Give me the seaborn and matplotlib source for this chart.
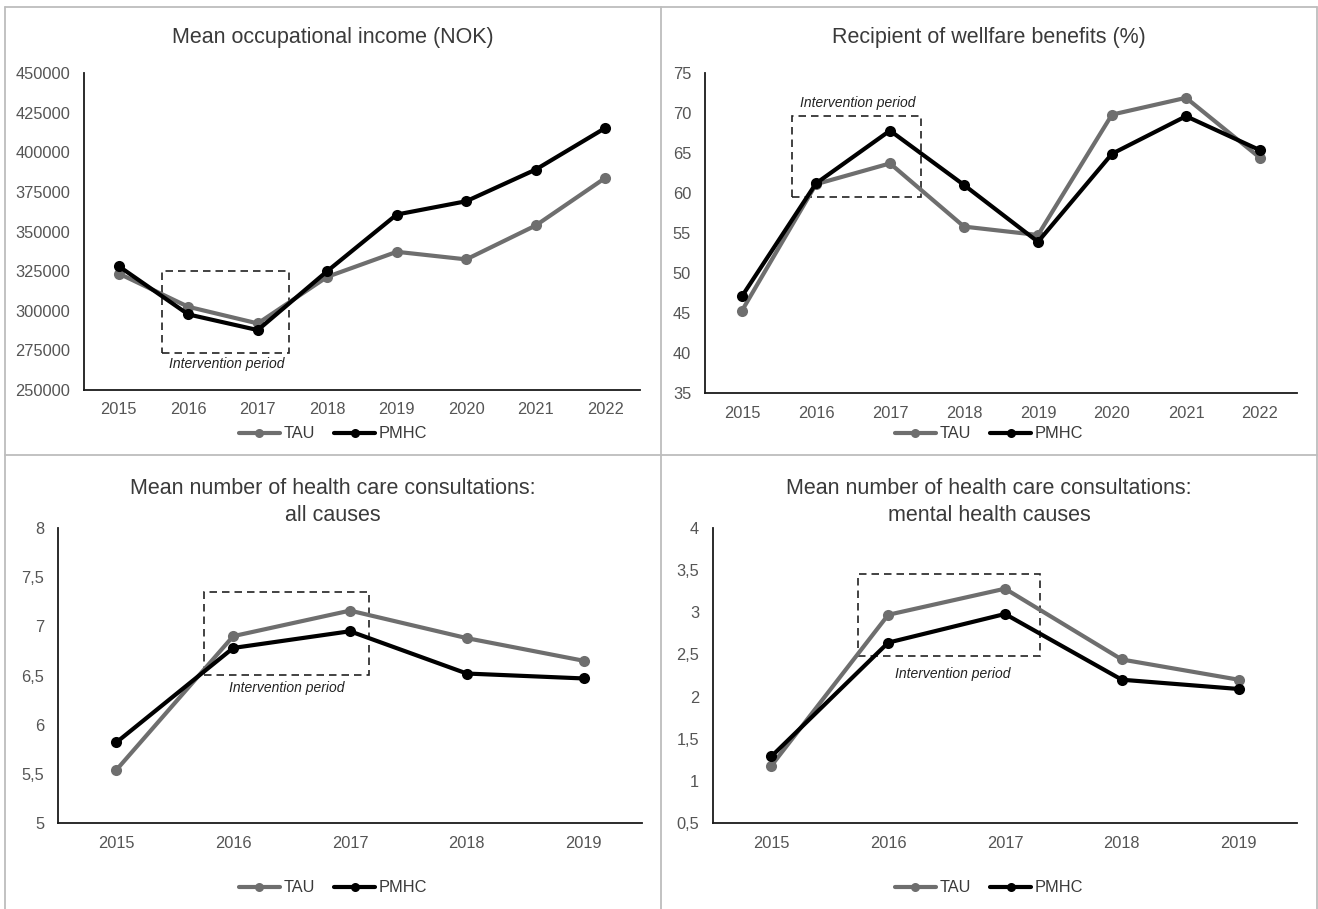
import matplotlib
matplotlib.use("Agg")
import matplotlib.pyplot as plt
from matplotlib.lines import Line2D
from matplotlib.patches import Rectangle
from matplotlib.ticker import FuncFormatter, MultipleLocator
import numpy as np
import pandas as pd
import seaborn as sns

# ---- data -------------------------------------------------------------
years_long = [2015, 2016, 2017, 2018, 2019, 2020, 2021, 2022]
years_short = [2015, 2016, 2017, 2018, 2019]

income_tau = [323500, 302500, 292000, 321400, 337200, 332400, 353800, 383800]
income_pmhc = [328100, 297700, 287800, 325000, 360700, 369100, 389100, 415300]

welfare_tau = [45.3, 61.1, 63.7, 55.8, 54.75, 69.8, 71.9, 64.4]
welfare_pmhc = [47.1, 61.2, 67.8, 61.0, 53.9, 64.9, 69.6, 65.35]

consult_all_tau = [5.54, 6.90, 7.16, 6.88, 6.65]
consult_all_pmhc = [5.82, 6.78, 6.95, 6.52, 6.47]

consult_mental_tau = [1.18, 2.97, 3.28, 2.44, 2.20]
consult_mental_pmhc = [1.29, 2.64, 2.98, 2.20, 2.09]

group_names = ["TAU", "PMHC"]
titles = [
    "Mean occupational income (NOK)",
    "Recipient of wellfare benefits (%)",
    "Mean number of health care consultations:\nall causes",
    "Mean number of health care consultations:\nmental health causes",
]

# ---- styling ----------------------------------------------------------
sns.set_style("white")
plt.rcParams["font.family"] = ["Liberation Sans", "DejaVu Sans"]

W, H = 1318, 909
GREY = "#6e6e6e"
TICK_C = "#555555"
TITLE_C = "#3a3a3a"
palette = {"TAU": GREY, "PMHC": "#000000"}

fig = plt.figure(figsize=(W / 100, H / 100), dpi=100)


def px_axes(x0, x1, ytop, ybot):
    return fig.add_axes([x0 / W, 1 - ybot / H, (x1 - x0) / W, (ybot - ytop) / H])


def comma_fmt(v, _):
    return f"{v:g}".replace(".", ",")


panels = [
    dict(rect=(84, 640, 73, 390), years=years_long, tau=income_tau, pmhc=income_pmhc,
         ylim=(250000, 450000), step=25000,
         box=(0.62, 273500, 2.45, 325000), note=(1.56, 266500),
         title_y=37, legend_y=434, cx=333),
    dict(rect=(705, 1297, 73, 393), years=years_long, tau=welfare_tau, pmhc=welfare_pmhc,
         ylim=(35, 75), step=5,
         box=(0.68, 59.45, 2.42, 69.6), note=(1.57, 71.2),
         title_y=37, legend_y=434, cx=989),
    dict(rect=(58, 642, 528, 823), years=years_short, tau=consult_all_tau, pmhc=consult_all_pmhc,
         ylim=(5, 8), step=0.5,
         box=(0.75, 6.51, 2.16, 7.35), note=(1.46, 6.37),
         title_y=502, legend_y=888, cx=333),
    dict(rect=(713, 1297, 528, 823), years=years_short, tau=consult_mental_tau, pmhc=consult_mental_pmhc,
         ylim=(0.5, 4), step=0.5,
         box=(0.74, 2.48, 2.30, 3.46), note=(1.55, 2.27),
         title_y=502, legend_y=888, cx=989),
]

for p, title in zip(panels, titles):
    ax = px_axes(*p["rect"])
    n = len(p["years"])
    df = pd.DataFrame({
        "pos": list(range(n)) * 2,
        "value": list(p["tau"]) + list(p["pmhc"]),
        "group": ["TAU"] * n + ["PMHC"] * n,
    })
    sns.lineplot(data=df, x="pos", y="value", hue="group", hue_order=group_names,
                 palette=palette, marker="o", markersize=8, markeredgewidth=0,
                 linewidth=3.0, legend=False, ax=ax, zorder=3)

    ax.set_xlim(-0.5, n - 0.5)
    ax.set_ylim(*p["ylim"])
    ax.set_xticks(range(n))
    ax.set_xticklabels([str(y) for y in p["years"]])
    ax.yaxis.set_major_locator(MultipleLocator(p["step"]))
    ax.yaxis.set_major_formatter(FuncFormatter(comma_fmt))
    ax.set_xlabel("")
    ax.set_ylabel("")
    ax.tick_params(axis="both", length=0, labelsize=11.8, labelcolor=TICK_C)
    ax.tick_params(axis="y", pad=10)
    ax.tick_params(axis="x", pad=9)
    for side in ("top", "right"):
        ax.spines[side].set_visible(False)
    for side in ("left", "bottom"):
        ax.spines[side].set_color("#1a1a1a")
        ax.spines[side].set_linewidth(1.3)
    ax.patch.set_alpha(0)

    # intervention window
    bx0, by0, bx1, by1 = p["box"]
    ax.add_patch(Rectangle((bx0, by0), bx1 - bx0, by1 - by0, fill=False,
                           edgecolor="#222222", linewidth=1.2,
                           linestyle=(0, (4.5, 3)), zorder=2))
    ax.text(p["note"][0], p["note"][1], "Intervention period", style="italic",
            fontsize=10, color="#222222", ha="center", va="center")

    fig.text(p["cx"] / W, 1 - p["title_y"] / H, title, ha="center", va="center",
             fontsize=15.5, color=TITLE_C, linespacing=1.4)

    handles = [Line2D([], [], color=palette[g], linewidth=3.0, marker="o",
                      markersize=6.5, markeredgewidth=0) for g in group_names]
    ax.legend(handles, group_names, loc="center",
              bbox_to_anchor=(p["cx"] / W, 1 - p["legend_y"] / H),
              bbox_transform=fig.transFigure, ncol=2, frameon=False,
              fontsize=11.8, labelcolor="#3a3a3a", handlelength=2.5,
              handletextpad=0.2, columnspacing=1.2)

# panel frames: top, left and right outer edges plus the two dividers
frame_c = "#bdbdbd"
top = 1 - 7 / H
for xs, ys in [
    ([5 / W, 1317 / W], [top, top]),
    ([5 / W, 5 / W], [0, top]),
    ([1317 / W, 1317 / W], [0, top]),
    ([661 / W, 661 / W], [0, top]),
    ([5 / W, 1317 / W], [1 - 455 / H, 1 - 455 / H]),
]:
    fig.add_artist(Line2D(xs, ys, transform=fig.transFigure, color=frame_c, linewidth=1.3))

fig.savefig("out.png", dpi=100, facecolor="white")
